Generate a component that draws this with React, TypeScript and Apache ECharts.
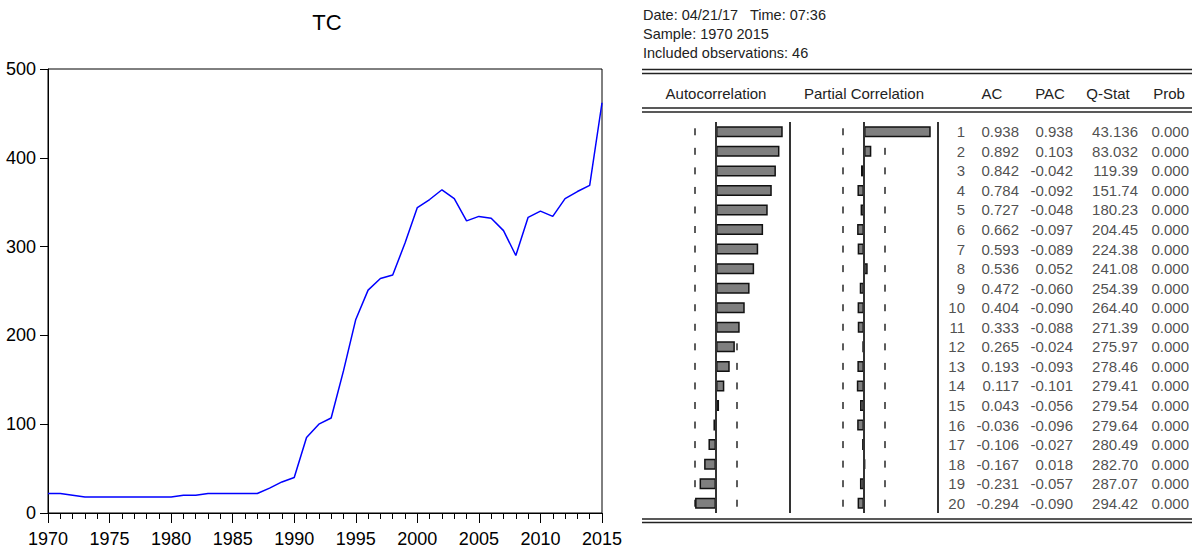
import React, { useEffect, useRef } from "react";
import * as echarts from "echarts";

// ---- TC series (annual, 1970–2015) ----
const years = [
  1970, 1971, 1972, 1973, 1974, 1975, 1976, 1977, 1978, 1979,
  1980, 1981, 1982, 1983, 1984, 1985, 1986, 1987, 1988, 1989,
  1990, 1991, 1992, 1993, 1994, 1995, 1996, 1997, 1998, 1999,
  2000, 2001, 2002, 2003, 2004, 2005, 2006, 2007, 2008, 2009,
  2010, 2011, 2012, 2013, 2014, 2015,
];
const tcValues = [
  22, 22, 20, 18, 18, 18, 18, 18, 18, 18,
  18, 20, 20, 22, 22, 22, 22, 22, 28, 35,
  40, 85, 100, 107, 160, 218, 251, 264, 268, 304,
  344, 353, 364, 354, 329, 334, 332, 318, 290, 333,
  340, 334, 354, 362, 369, 462,
];

// ---- Correlogram of TC ----
const headerLines = ["Date: 04/21/17   Time: 07:36", "Sample: 1970 2015", "Included observations: 46"];
const nObs = 46;
const lags = [1, 2, 3, 4, 5, 6, 7, 8, 9, 10, 11, 12, 13, 14, 15, 16, 17, 18, 19, 20];
const acValues = [
  0.938, 0.892, 0.842, 0.784, 0.727, 0.662, 0.593, 0.536, 0.472, 0.404,
  0.333, 0.265, 0.193, 0.117, 0.043, -0.036, -0.106, -0.167, -0.231, -0.294,
];
const pacValues = [
  0.938, 0.103, -0.042, -0.092, -0.048, -0.097, -0.089, 0.052, -0.06, -0.09,
  -0.088, -0.024, -0.093, -0.101, -0.056, -0.096, -0.027, 0.018, -0.057, -0.09,
];
const qStats = [
  43.136, 83.032, 119.39, 151.74, 180.23, 204.45, 224.38, 241.08, 254.39, 264.4,
  271.39, 275.97, 278.46, 279.41, 279.54, 279.64, 280.49, 282.7, 287.07, 294.42,
];
const probs = [
  0, 0, 0, 0, 0, 0, 0, 0, 0, 0,
  0, 0, 0, 0, 0, 0, 0, 0, 0, 0,
];
const columnHeaders = ["Autocorrelation", "Partial Correlation", "AC", "PAC", "Q-Stat", "Prob"];

const NARROW = "'Liberation Sans Narrow', 'Arial Narrow', 'Liberation Sans', Arial, sans-serif";
const SANS = "'Liberation Sans', Arial, sans-serif";
const TEXT = "#222";

export default function App() {
  const ref = useRef<HTMLDivElement>(null);

  useEffect(() => {
    if (!ref.current) return;
    const chart = echarts.init(ref.current, null, { renderer: "svg" });

    const bound = 2 / Math.sqrt(nObs);
    const panelExtent = 1.04;

    // table layout: right edges of the numeric columns inside the table grid
    const tableLeft = 940;
    const colRight = [25, 79, 133, 198, 249];
    const columns = [
      lags.map((v) => String(v)),
      acValues.map((v) => v.toFixed(3)),
      pacValues.map((v) => v.toFixed(3)),
      qStats.map((v) => v.toPrecision(5)),
      probs.map((v) => v.toFixed(3)),
    ];

    const rowsTop = 122;
    const rowsHeight = 391;

    const hiddenValueAxis = (gridIndex: number, min: number, max: number) => ({
      type: "value",
      gridIndex,
      min,
      max,
      show: false,
      splitLine: { show: false },
    });
    const hiddenRowAxis = (gridIndex: number) => ({
      type: "category",
      gridIndex,
      data: lags.map(String),
      inverse: true,
      show: false,
    });

    const corrPanel = (axis: number, values: number[]) => [
      {
        type: "scatter",
        xAxisIndex: axis,
        yAxisIndex: axis,
        symbol: "rect",
        symbolSize: [2, 7],
        itemStyle: { color: "#333" },
        z: 1,
        silent: true,
        data: lags.flatMap((_, i) => [[-bound, i], [bound, i]]),
      },
      {
        type: "bar",
        xAxisIndex: axis,
        yAxisIndex: axis,
        barWidth: 11,
        itemStyle: { color: "#7f7f7f", borderColor: "#111", borderWidth: 1.5 },
        z: 3,
        data: values,
        markLine: {
          silent: true,
          symbol: "none",
          label: { show: false },
          lineStyle: { color: "#333", width: 2, type: "solid" },
          data: [{ xAxis: 0 }, { xAxis: panelExtent }],
        },
      },
    ];

    const hLine = (y: number) => ({
      type: "line",
      shape: { x1: 642, y1: y, x2: 1192, y2: y },
      style: { stroke: "#222", lineWidth: 1.6 },
    });

    chart.setOption({
      animation: false,
      backgroundColor: "#fff",
      grid: [
        { left: 48, top: 69, width: 554, height: 444, show: true, borderColor: "#000", borderWidth: 1 },
        { left: 642, top: rowsTop, width: 148, height: rowsHeight },
        { left: 790, top: rowsTop, width: 148, height: rowsHeight },
        { left: tableLeft, top: rowsTop, width: 252, height: rowsHeight },
      ],
      xAxis: [
        {
          type: "value",
          gridIndex: 0,
          min: 1970,
          max: 2015,
          interval: 5,
          axisLine: { show: true, lineStyle: { color: "#000", width: 1 } },
          axisTick: { show: true, inside: false, length: 10, lineStyle: { color: "#000" } },
          minorTick: { show: true, splitNumber: 5, length: 6, lineStyle: { color: "#000" } },
          splitLine: { show: false },
          minorSplitLine: { show: false },
          axisLabel: {
            formatter: (v: number) => String(v),
            margin: 17,
            fontSize: 18,
            fontFamily: NARROW,
            color: "#000",
          },
        },
        hiddenValueAxis(1, -panelExtent, panelExtent),
        hiddenValueAxis(2, -panelExtent, panelExtent),
        hiddenValueAxis(3, 0, 252),
      ],
      yAxis: [
        {
          type: "value",
          gridIndex: 0,
          min: 0,
          max: 500,
          interval: 100,
          axisLine: { show: true, lineStyle: { color: "#000", width: 1 } },
          axisTick: { show: true, inside: false, length: 8, lineStyle: { color: "#000" } },
          splitLine: { show: false },
          axisLabel: { margin: 12, fontSize: 18, fontFamily: NARROW, color: "#000" },
        },
        hiddenRowAxis(1),
        hiddenRowAxis(2),
        hiddenRowAxis(3),
      ],
      series: [
        {
          type: "line",
          name: "TC",
          xAxisIndex: 0,
          yAxisIndex: 0,
          showSymbol: false,
          lineStyle: { color: "#0000ff", width: 1.5 },
          data: years.map((y, i) => [y, tcValues[i]]),
        },
        ...corrPanel(1, acValues),
        ...corrPanel(2, pacValues),
        ...columns.map((col, k) => ({
          type: "scatter",
          xAxisIndex: 3,
          yAxisIndex: 3,
          symbolSize: 0,
          silent: true,
          data: col.map((text, i) => [colRight[k], i, text]),
          label: {
            show: true,
            position: "inside",
            align: "right",
            verticalAlign: "middle",
            formatter: (p: any) => p.value[2],
            fontSize: 15,
            fontFamily: SANS,
            color: TEXT,
          },
        })),
      ],
      graphic: [
        {
          type: "text",
          x: 327,
          y: 22,
          style: {
            text: "TC",
            fontSize: 22,
            fontFamily: NARROW,
            fill: "#000",
            textAlign: "center",
            textVerticalAlign: "middle",
          },
        },
        ...headerLines.map((t, i) => ({
          type: "text",
          x: 643,
          y: 15 + i * 19,
          style: { text: t, fontSize: 14.5, fontFamily: SANS, fill: TEXT, textVerticalAlign: "middle" },
        })),
        hLine(69.5),
        hLine(73.5),
        hLine(108),
        hLine(112),
        hLine(519),
        hLine(522.5),
        ...columnHeaders.map((t, i) => ({
          type: "text",
          x: [716, 864, 992, 1050, 1108, 1169][i],
          y: 93,
          style: {
            text: t,
            fontSize: 15,
            fontFamily: SANS,
            fill: TEXT,
            textAlign: "center",
            textVerticalAlign: "middle",
          },
        })),
      ],
    });

    return () => chart.dispose();
  }, []);

  return (
    <div
      ref={ref}
      style={{ position: "fixed", left: 0, top: 0, width: 1192, height: 548, background: "#fff" }}
    />
  );
}
